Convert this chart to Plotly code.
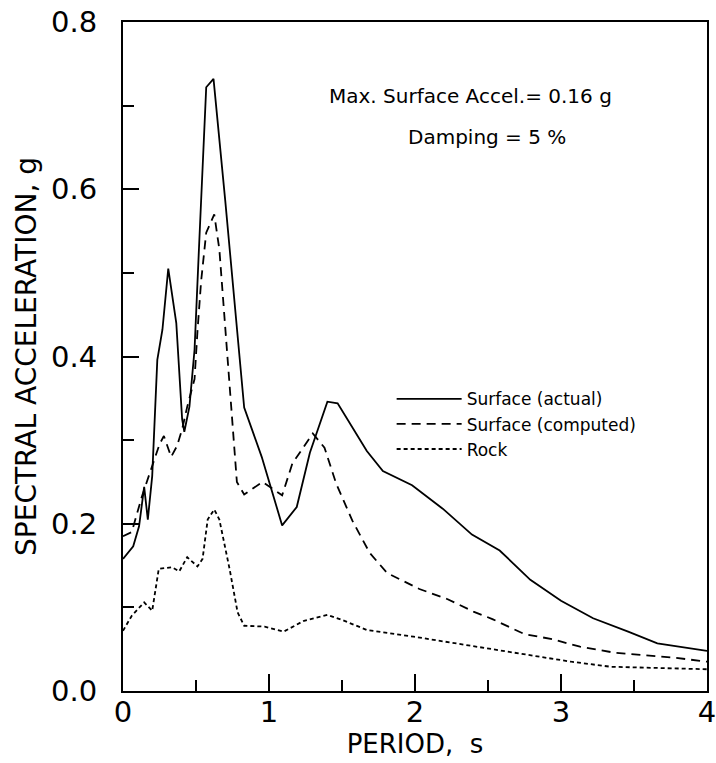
import plotly.graph_objects as go

# Surface (actual)
period_actual = [0.0, 0.07, 0.11, 0.145, 0.17, 0.2, 0.235, 0.27, 0.31, 0.365, 0.405, 0.42, 0.455,
                 0.49, 0.52, 0.57, 0.62, 0.70, 0.83, 0.95, 1.09, 1.19, 1.28, 1.40, 1.47, 1.67,
                 1.78, 1.98, 2.19, 2.39, 2.58, 2.79, 3.0, 3.22, 3.46, 3.66, 4.0]
sa_actual = [0.158, 0.173, 0.197, 0.244, 0.205, 0.257, 0.396, 0.432, 0.505, 0.44, 0.325, 0.31, 0.34,
             0.408, 0.528, 0.722, 0.732, 0.587, 0.339, 0.28, 0.198, 0.22, 0.285, 0.346, 0.344, 0.287,
             0.263, 0.246, 0.218, 0.187, 0.168, 0.133, 0.108, 0.087, 0.071, 0.057, 0.048]

# Surface (computed)
period_computed = [0.0, 0.06, 0.13, 0.25, 0.28, 0.33, 0.37, 0.405, 0.44, 0.49, 0.51, 0.535, 0.57,
                   0.625, 0.66, 0.71, 0.74, 0.78, 0.83, 0.955, 1.09, 1.16, 1.30, 1.38, 1.46, 1.57,
                   1.69, 1.81, 2.03, 2.22, 2.40, 2.53, 2.75, 2.94, 3.13, 3.36, 3.77, 4.0]
sa_computed = [0.185, 0.19, 0.233, 0.295, 0.305, 0.28, 0.293, 0.313, 0.34, 0.373, 0.43, 0.49, 0.548,
               0.57, 0.528, 0.408, 0.34, 0.25, 0.235, 0.25, 0.234, 0.272, 0.308, 0.291, 0.248, 0.204,
               0.165, 0.141, 0.122, 0.11, 0.095, 0.086, 0.068, 0.062, 0.053, 0.046, 0.04, 0.035]

# Rock
period_rock = [0.0, 0.06, 0.145, 0.2, 0.245, 0.335, 0.385, 0.44, 0.51, 0.545, 0.58, 0.625, 0.66,
               0.73, 0.785, 0.83, 0.97, 1.1, 1.24, 1.4, 1.5, 1.67, 1.99, 2.53, 3.07, 3.34, 4.0]
sa_rock = [0.072, 0.09, 0.106, 0.096, 0.146, 0.148, 0.143, 0.16, 0.149, 0.158, 0.205, 0.217, 0.205,
           0.146, 0.094, 0.078, 0.077, 0.071, 0.084, 0.091, 0.085, 0.073, 0.065, 0.05, 0.035, 0.029, 0.026]

x_ticks = [0, 1, 2, 3, 4]
x_tick_labels = ["0", "1", "2", "3", "4"]
y_ticks = [0.0, 0.2, 0.4, 0.6, 0.8]
y_tick_labels = ["0.0", "0.2", "0.4", "0.6", "0.8"]

FONT = "DejaVu Sans"
INK = "black"

fig = go.Figure()
fig.add_trace(go.Scatter(x=period_actual, y=sa_actual, mode="lines", name="Surface (actual)",
                         line=dict(color=INK, width=1.8, dash="solid")))
fig.add_trace(go.Scatter(x=period_computed, y=sa_computed, mode="lines", name="Surface (computed)",
                         line=dict(color=INK, width=1.8, dash="9px,6px")))
fig.add_trace(go.Scatter(x=period_rock, y=sa_rock, mode="lines", name="Rock",
                         line=dict(color=INK, width=1.8, dash="4px,3px")))

fig.add_annotation(x=2.38, y=0.712, xref="x", yref="y", text="Max. Surface Accel.= 0.16 g",
                   showarrow=False, xanchor="center", yanchor="middle",
                   font=dict(family=FONT, size=20, color=INK))
fig.add_annotation(x=2.49, y=0.663, xref="x", yref="y", text="Damping = 5 %",
                   showarrow=False, xanchor="center", yanchor="middle",
                   font=dict(family=FONT, size=20, color=INK))

fig.update_layout(
    width=716, height=763,
    margin=dict(l=123, r=9, t=22, b=72, autoexpand=False),
    paper_bgcolor="white", plot_bgcolor="white",
    font=dict(family=FONT, color=INK),
    showlegend=True,
    legend=dict(x=0.46, y=0.463, xanchor="left", yanchor="top",
                bgcolor="rgba(0,0,0,0)", borderwidth=0, itemwidth=65,
                font=dict(family=FONT, size=17, color=INK), tracegroupgap=0),
    xaxis=dict(range=[0, 4], tickvals=x_ticks, ticktext=x_tick_labels, automargin=False,
               ticklabeloverflow="allow",
               showgrid=False, zeroline=False, showline=True, linecolor=INK, linewidth=2,
               mirror=True, ticks="inside", ticklen=17, tickwidth=1.5, tickcolor=INK,
               minor=dict(ticks="inside", ticklen=11, tickwidth=1.5, tickcolor=INK, dtick=0.5,
                          showgrid=False),
               tickfont=dict(family=FONT, size=29, color=INK),
               ticklabelstandoff=-6,
               title=dict(text="PERIOD,  s", font=dict(family=FONT, size=26, color=INK), standoff=0)),
    yaxis=dict(range=[0, 0.8], tickvals=y_ticks, ticktext=y_tick_labels, automargin=False,
               ticklabeloverflow="allow",
               showgrid=False, zeroline=False, showline=True, linecolor=INK, linewidth=2,
               mirror=True, ticks="inside", ticklen=16, tickwidth=1.5, tickcolor=INK,
               minor=dict(ticks="inside", ticklen=11, tickwidth=1.5, tickcolor=INK, dtick=0.1,
                          showgrid=False),
               tickfont=dict(family=FONT, size=29, color=INK),
               ticklabelstandoff=18,
               title=dict(text="SPECTRAL ACCELERATION, g", font=dict(family=FONT, size=28, color=INK),
                          standoff=6)),
)

# remove the browser's default 8px body margin so the figure fills the window exactly
fig.write_html("out.html", config={"displayModeBar": False},
               post_script="document.body.style.margin='0';")
